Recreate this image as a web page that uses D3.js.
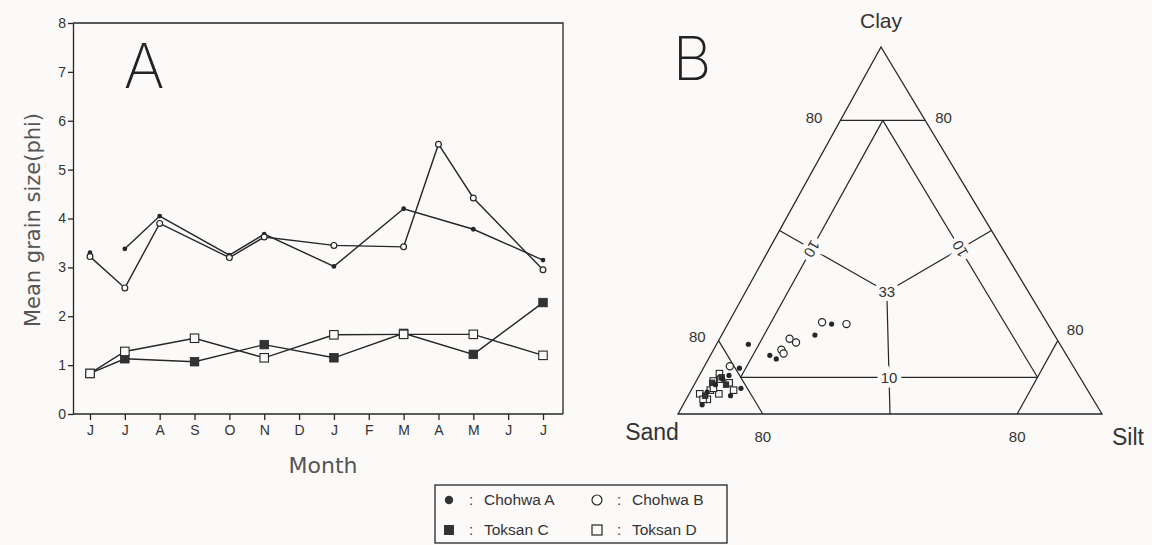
<!DOCTYPE html>
<html>
<head>
<meta charset="utf-8">
<script src="https://cdn.jsdelivr.net/npm/d3@7"></script>
<style>
  html, body { margin: 0; padding: 0; background: #fbfaf8; }
  svg { display: block; font-family: "Liberation Sans", Arial, sans-serif; }
  .thin { font-family: "Inter", "DejaVu Sans", sans-serif; font-weight: 200; }
  .title { font-family: "DejaVu Sans", sans-serif; }
</style>
</head>
<body>
<svg id="chart" width="1152" height="545"></svg>
<script>
// ---- panel A data (mean grain size, phi) ----
const months = ["J", "J", "A", "S", "O", "N", "D", "J", "F", "M", "A", "M", "J", "J"];
const yTicks = [0, 1, 2, 3, 4, 5, 6, 7, 8];
const chohwaA = [3.30, 3.38, 4.05, null, 3.25, 3.68, null, 3.02, null, 4.20, null, 3.78, null, 3.15];
const chohwaB = [3.22, 2.58, 3.90, null, 3.20, 3.62, null, 3.45, null, 3.42, 5.52, 4.42, null, 2.95];
const toksanC = [0.83, 1.13, null, 1.07, null, 1.42, null, 1.15, null, 1.65, null, 1.22, null, 2.28];
const toksanD = [0.83, 1.28, null, 1.55, null, 1.15, null, 1.62, null, 1.63, null, 1.63, null, 1.20];
// month index where a new line segment starts (no line drawn into it)
const chohwaABreaks = [1];

// ---- panel B data: [sand, silt, clay] % ----
const ternChohwaA = [[73.5, 7.5, 19], [79, 8.5, 12.5], [81.5, 11.5, 7], [70, 14, 16], [69, 16, 15],
  [56.5, 22, 21.5], [51, 24.5, 24.5], [84.5, 6, 9.5], [82.5, 7, 10.5], [87, 5, 8],
  [85, 10, 5], [93, 4.5, 2.5], [90, 4, 6]];
const ternChohwaB = [[53, 22, 25], [47.5, 28, 24.5], [63, 16.5, 20.5], [62, 18.5, 19.5],
  [66.5, 16, 17.5], [66.5, 17, 16.5], [81, 6, 13]];
const ternToksanC = [[84.5, 5.5, 10], [84.5, 7.5, 8], [91, 4, 5], [87.5, 4, 8.5]];
const ternToksanD = [[84.5, 4.5, 11], [87, 4, 9], [85, 5.5, 9.5], [83.5, 8, 8.5], [83.5, 10, 6.5],
  [92, 2.5, 5.5], [89, 4.5, 6.5], [87.5, 7, 5.5], [91, 5, 4], [92, 4, 4], [88, 5, 7]];
const ternLines = [
  [[20, 0, 80], [0, 20, 80]],
  [[10, 10, 80], [80, 10, 10]],
  [[10, 10, 80], [10, 80, 10]],
  [[80, 10, 10], [10, 80, 10]],
  [[80, 0, 20], [80, 20, 0]],
  [[0, 80, 20], [20, 80, 0]],
  [[33.3, 33.3, 33.3], [50, 0, 50]],
  [[33.3, 33.3, 33.3], [0, 50, 50]],
  [[33.3, 33.3, 33.3], [50, 50, 0]]
];

const ink = "#262626";
const bg = "#fbfaf8";
const svg = d3.select("#chart");

// ================= Panel A =================
const x = d3.scaleLinear().domain([0, months.length - 1]).range([90, 543]);
const y = d3.scaleLinear().domain([0, 8]).range([414, 23]);

const gA = svg.append("g");

// frame (top and right)
gA.append("path")
  .attr("d", `M73,${y(8)}H563V${y(0)}`)
  .attr("fill", "none").attr("stroke", ink).attr("stroke-width", 1.3);

const yAxis = gA.append("g")
  .attr("transform", "translate(73,0)")
  .call(d3.axisLeft(y).tickValues(yTicks).tickSize(5).tickSizeOuter(0).tickFormat(d3.format("d")));

const xAxis = gA.append("g")
  .attr("transform", `translate(0,${y(0)})`)
  .call(d3.axisBottom(x).tickValues(d3.range(months.length)).tickSize(6).tickSizeOuter(0)
    .tickFormat(i => months[i]));

// extend bottom axis line to the frame
xAxis.select(".domain").attr("d", "M73,0H563");
[yAxis, xAxis].forEach(a => {
  a.selectAll("path, line").attr("stroke", ink).attr("stroke-width", 1.3);
  a.selectAll("text").attr("fill", "#333").style("font-size", "14px")
    .style("font-family", "Liberation Sans, Arial, sans-serif");
});
yAxis.selectAll("text").attr("x", -7);
xAxis.selectAll("text").attr("y", 11);

function segments(vals, breaks) {
  const segs = [];
  let cur = [];
  vals.forEach((v, i) => {
    if (v == null) return;
    if (breaks.includes(i) && cur.length) { segs.push(cur); cur = []; }
    cur.push({ i, v });
  });
  if (cur.length) segs.push(cur);
  return segs;
}

const line = d3.line().x(d => x(d.i)).y(d => y(d.v));
const series = [
  { vals: chohwaA, breaks: chohwaABreaks, mark: "dot" },
  { vals: chohwaB, breaks: [], mark: "ring" },
  { vals: toksanC, breaks: [], mark: "fsq" },
  { vals: toksanD, breaks: [], mark: "osq" }
];

series.forEach(s => {
  segments(s.vals, s.breaks).forEach(seg => {
    gA.append("path").datum(seg).attr("d", line)
      .attr("fill", "none").attr("stroke", ink).attr("stroke-width", 1.4);
  });
});

// size sets: panel A and ternary
const sizesA = { dot: 2.4, ring: 2.9, fsq: 8.5, osq: 8.5 };
const sizesB = { dot: 2.6, ring: 3.6, fsq: 5.5, osq: 6.5 };

function drawMarker(g, kind, px, py, sz) {
  const s = sz[kind];
  if (kind === "dot") {
    g.append("circle").attr("cx", px).attr("cy", py).attr("r", s).attr("fill", ink);
  } else if (kind === "ring") {
    g.append("circle").attr("cx", px).attr("cy", py).attr("r", s)
      .attr("fill", bg).attr("stroke", ink).attr("stroke-width", 1.2);
  } else if (kind === "fsq") {
    g.append("rect").attr("x", px - s / 2).attr("y", py - s / 2).attr("width", s).attr("height", s)
      .attr("fill", "#333").attr("stroke", ink).attr("stroke-width", 0.8);
  } else {
    g.append("rect").attr("x", px - s / 2).attr("y", py - s / 2).attr("width", s).attr("height", s)
      .attr("fill", bg).attr("stroke", ink).attr("stroke-width", 1.1);
  }
}

series.forEach(s => {
  s.vals.forEach((v, i) => {
    if (v == null) return;
    drawMarker(gA, s.mark, x(i), y(v), sizesA);
  });
});

gA.append("text").attr("class", "thin").attr("x", 144).attr("y", 88)
  .attr("text-anchor", "middle").style("font-size", "62px").attr("fill", "#222").text("A");

gA.append("text").attr("class", "title")
  .attr("transform", "translate(40,220) rotate(-90)")
  .attr("text-anchor", "middle").style("font-size", "21px").attr("fill", "#555")
  .text("Mean grain size(phi)");

gA.append("text").attr("class", "title").attr("x", 323).attr("y", 473).attr("text-anchor", "middle")
  .style("font-size", "22px").attr("fill", "#555").text("Month");

// ================= Panel B (ternary) =================
const sandX = 678, baseY = 414;
const tSilt = d3.scaleLinear().domain([0, 100]).range([0, 424]);
const tShift = d3.scaleLinear().domain([0, 100]).range([0, 203]);
const tClay = d3.scaleLinear().domain([0, 100]).range([baseY, 47]);
const proj = p => [sandX + tSilt(p[1]) + tShift(p[2]), tClay(p[2])];

const gB = svg.append("g");
const corners = [[100, 0, 0], [0, 100, 0], [0, 0, 100]].map(proj);
gB.append("path").attr("d", d3.line()(corners) + "Z")
  .attr("fill", "none").attr("stroke", ink).attr("stroke-width", 1.3);

ternLines.forEach(l => {
  gB.append("path").attr("d", d3.line()(l.map(proj)))
    .attr("fill", "none").attr("stroke", ink).attr("stroke-width", 1.2);
});

// labels on the inner lines (background halo breaks the lines)
const innerLabels = [
  { p: [45, 10, 45], t: "10", rot: 120 },
  { p: [10, 45, 45], t: "10", rot: -120 },
  { p: [45, 45, 10], t: "10", rot: 0 },
  { p: [33.3, 33.3, 33.3], t: "33", rot: 0 }
];
innerLabels.forEach(d => {
  const [px, py] = proj(d.p);
  gB.append("text")
    .attr("transform", `translate(${px},${py}) rotate(${d.rot})`)
    .attr("text-anchor", "middle").attr("dy", "0.35em")
    .style("font-size", "15px").attr("fill", "#333")
    .attr("stroke", bg).attr("stroke-width", 9).style("paint-order", "stroke")
    .text(d.t);
});

// point clouds
[[ternChohwaB, "ring"], [ternToksanD, "osq"], [ternToksanC, "fsq"], [ternChohwaA, "dot"]].forEach(([arr, kind]) => {
  arr.forEach(p => {
    const [px, py] = proj(p);
    drawMarker(gB, kind, px, py, sizesB);
  });
});

// 80 % labels
const eightyLabels = [
  { p: [20, 0, 80], dx: -18, dy: 3, a: "end" },
  { p: [0, 20, 80], dx: 10, dy: 3, a: "start" },
  { p: [80, 0, 20], dx: -13, dy: 1, a: "end" },
  { p: [0, 80, 20], dx: 9, dy: -6, a: "start" },
  { p: [80, 20, 0], dx: 0, dy: 28, a: "middle" },
  { p: [20, 80, 0], dx: 0, dy: 28, a: "middle" }
];
eightyLabels.forEach(d => {
  const [px, py] = proj(d.p);
  gB.append("text").attr("x", px + d.dx).attr("y", py + d.dy).attr("text-anchor", d.a)
    .style("font-size", "15px").attr("fill", "#333").text("80");
});

gB.append("text").attr("x", 652).attr("y", 440).attr("text-anchor", "middle")
  .style("font-size", "23px").attr("fill", "#333").text("Sand");
gB.append("text").attr("x", 1128).attr("y", 445).attr("text-anchor", "middle")
  .style("font-size", "23px").attr("fill", "#333").text("Silt");
gB.append("text").attr("x", 881).attr("y", 28).attr("text-anchor", "middle")
  .style("font-size", "21px").attr("fill", "#333").text("Clay");
gB.append("text").attr("class", "thin").attr("x", 692).attr("y", 80).attr("text-anchor", "middle")
  .style("font-size", "60px").attr("fill", "#222").text("B");

// ================= Legend =================
const legendNames = ["Chohwa A", "Chohwa B", "Toksan C", "Toksan D"];
const legendKinds = ["dot", "ring", "fsq", "osq"];
const gL = svg.append("g");
gL.append("rect").attr("x", 435).attr("y", 485).attr("width", 292).attr("height", 58)
  .attr("fill", "none").attr("stroke", ink).attr("stroke-width", 1.3);
legendNames.forEach((name, i) => {
  const col = i % 2, row = Math.floor(i / 2);
  const mx = col ? 597 : 449, my = row ? 530 : 500;
  const k = legendKinds[i];
  if (k === "dot") gL.append("circle").attr("cx", mx).attr("cy", my).attr("r", 4.2).attr("fill", "#333");
  else if (k === "ring") gL.append("circle").attr("cx", mx).attr("cy", my).attr("r", 5)
    .attr("fill", "none").attr("stroke", ink).attr("stroke-width", 1.2);
  else if (k === "fsq") gL.append("rect").attr("x", mx - 5).attr("y", my - 5).attr("width", 10).attr("height", 10).attr("fill", "#333");
  else gL.append("rect").attr("x", mx - 5).attr("y", my - 5).attr("width", 10).attr("height", 10)
    .attr("fill", "none").attr("stroke", ink).attr("stroke-width", 1.2);
  gL.append("text").attr("x", mx + 22).attr("y", my + 5).attr("text-anchor", "middle")
    .style("font-size", "15px").attr("fill", "#333").text(":");
  gL.append("text").attr("x", mx + 35).attr("y", my + 5)
    .style("font-size", "15.5px").attr("fill", "#333").text(name);
});
</script>
</body>
</html>
